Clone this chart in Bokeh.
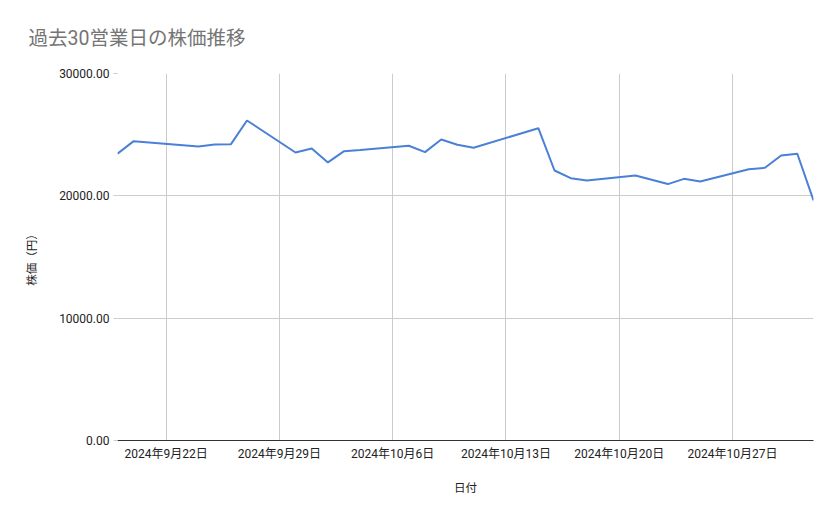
from datetime import datetime

from bokeh.embed import file_html
from bokeh.models import ColumnDataSource, FixedTicker, PrintfTickFormatter, Range1d
from bokeh.plotting import figure
from bokeh.resources import INLINE

# 過去30営業日（祝日 9/23, 10/14 は休場）
dates = [
    "2024-09-19", "2024-09-20", "2024-09-24", "2024-09-25", "2024-09-26",
    "2024-09-27", "2024-09-30", "2024-10-01", "2024-10-02", "2024-10-03",
    "2024-10-04", "2024-10-07", "2024-10-08", "2024-10-09", "2024-10-10",
    "2024-10-11", "2024-10-15", "2024-10-16", "2024-10-17", "2024-10-18",
    "2024-10-21", "2024-10-22", "2024-10-23", "2024-10-24", "2024-10-25",
    "2024-10-28", "2024-10-29", "2024-10-30", "2024-10-31", "2024-11-01",
]
prices = [
    23440, 24470, 24030, 24200, 24210,
    26160, 23540, 23870, 22730, 23650,
    23750, 24090, 23570, 24610, 24180,
    23930, 25530, 22070, 21440, 21250,
    21660, 21320, 20960, 21390, 21170,
    22180, 22290, 23300, 23440, 19620,
]
tick_dates = ["2024-09-22", "2024-09-29", "2024-10-06", "2024-10-13", "2024-10-20", "2024-10-27"]
tick_labels = ["2024年9月22日", "2024年9月29日", "2024年10月6日", "2024年10月13日", "2024年10月20日", "2024年10月27日"]
y_ticks = [0, 10000, 20000, 30000]

FONT = "Roboto, Noto Sans CJK JP"


def ms(s):
    return datetime.strptime(s, "%Y-%m-%d").timestamp() * 1000


def main():
    src = ColumnDataSource(dict(x=[datetime.strptime(d, "%Y-%m-%d") for d in dates], y=prices))

    p = figure(
        width=831, height=511,
        x_axis_type="datetime",
        x_range=Range1d(datetime(2024, 9, 19), datetime(2024, 11, 1)),
        y_range=Range1d(0, 30000),
        output_backend="svg", toolbar_location=None,
        min_border_left=117, min_border_right=18, min_border_top=73, min_border_bottom=71,
        title="過去30営業日の株価推移",
    )
    p.outline_line_color = None

    p.title.text_font = FONT
    p.title.text_font_size = "19.5px"
    p.title.text_font_style = "normal"
    p.title.text_color = "#757575"
    p.title.align = "left"
    p.title.offset = -89
    p.title.standoff = 47

    p.line("x", "y", source=src, line_color="#4a80d6", line_width=2)

    tick_ms = [ms(t) for t in tick_dates]
    xa = p.xaxis[0]
    xa.ticker = FixedTicker(ticks=tick_ms)
    xa.major_label_overrides = {t: lab for t, lab in zip(tick_ms, tick_labels)}
    xa.axis_label = "日付"
    xa.axis_line_color = "#333333"
    xa.major_tick_line_color = None
    xa.minor_tick_line_color = None
    xa.major_label_standoff = 0
    xa.axis_label_standoff = 17

    ya = p.yaxis[0]
    ya.ticker = FixedTicker(ticks=y_ticks)
    ya.formatter = PrintfTickFormatter(format="%.2f")
    ya.axis_label = "株価（円）"
    ya.axis_line_color = None
    ya.major_tick_line_color = "#cccccc"
    ya.major_tick_out = 4
    ya.major_tick_in = 0
    ya.minor_tick_line_color = None
    ya.major_label_standoff = 4
    ya.axis_label_standoff = 17

    for ax in (xa, ya):
        ax.major_label_text_font = FONT
        ax.major_label_text_font_size = "12px"
        ax.major_label_text_color = "#222222"
        ax.axis_label_text_font = FONT
        ax.axis_label_text_font_size = "11.5px"
        ax.axis_label_text_font_style = "normal"
        ax.axis_label_text_color = "#222222"

    p.xgrid.ticker = FixedTicker(ticks=tick_ms)
    p.xgrid.grid_line_color = "#cccccc"
    p.ygrid.grid_line_color = "#cccccc"

    open("out.html", "w").write(file_html(p, INLINE))


if __name__ == "__main__":
    main()
